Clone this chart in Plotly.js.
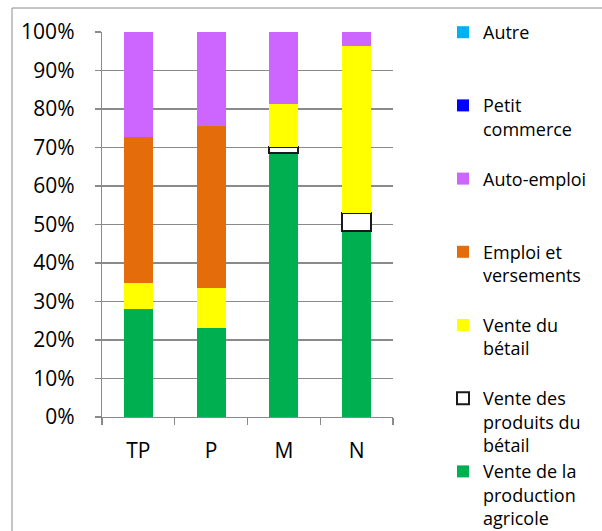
<!DOCTYPE html>
<html><head><meta charset="utf-8">
<script src="https://cdn.plot.ly/plotly-3.0.1.min.js"></script>
<style>
html,body{margin:0;padding:0;background:#fff;}
#chart{width:602px;height:531px;}
</style>
</head><body>
<div id="chart"></div>
<script>
const categories = ['TP', 'P', 'M', 'N'];
const productionAgricole = [28.1, 23.2, 68.5, 48.2];
const produitsBetail = [null, null, 1.6, 4.8];
const venteBetail = [6.6, 10.2, 11.1, 43.3];
const emploiVersements = [38.1, 42.2, null, null];
const autoEmploi = [27.2, 24.4, 18.8, 3.7];
const petitCommerce = [0, 0, 0, 0];
const autre = [0, 0, 0, 0];
const yTicks = [0, 10, 20, 30, 40, 50, 60, 70, 80, 90, 100];
const yTickText = ['0%', '10%', '20%', '30%', '40%', '50%', '60%', '70%', '80%', '90%', '100%'];

function tr(name, y, color, line) {
  return {
    type: 'bar', x: categories, y: y, name: name,
    marker: { color: color, line: line || { width: 0 } },
    hoverinfo: 'none'
  };
}
const data = [
  tr('Vente de la<br>production<br>agricole', productionAgricole, '#00B050'),
  tr('Vente des<br>produits du<br>bétail', produitsBetail, '#FFFFFF', { color: '#1a1a1a', width: 2 }),
  tr('Vente du<br>bétail<br> ', venteBetail, '#FFFF00'),
  tr('Emploi et<br>versements<br> ', emploiVersements, '#E46C0A'),
  tr('Auto-emploi<br> <br> ', autoEmploi, '#CC66FF'),
  tr('Petit<br>commerce<br> ', petitCommerce, '#0000FF'),
  tr('Autre<br> <br> ', autre, '#00B0F0')
];
const grid = '#8a8a8a';
const layout = {
  width: 602, height: 531,
  paper_bgcolor: '#fff', plot_bgcolor: '#fff',
  margin: { l: 102, r: 209, t: 32, b: 114, autoexpand: false },
  barmode: 'stack', bargap: 0.6,
  font: { family: 'Open Sans, sans-serif', color: '#000' },
  xaxis: {
    type: 'category', showline: true, linecolor: grid, linewidth: 1.3,
    ticks: 'outside', tickson: 'boundaries', ticklen: 7, tickcolor: grid, tickwidth: 1.3,
    tickfont: { size: 21, color: '#000' }, ticklabelstandoff: 14,
    showgrid: false, fixedrange: true
  },
  yaxis: {
    range: [0, 100], tickmode: 'array', tickvals: yTicks, ticktext: yTickText,
    showline: true, linecolor: grid, linewidth: 1.3,
    ticks: 'outside', ticklen: 6, tickcolor: grid, tickwidth: 1.3,
    showgrid: true, gridcolor: grid, gridwidth: 1.3, zeroline: false,
    tickfont: { size: 21, color: '#000' }, ticklabelstandoff: 16, fixedrange: true
  },
  legend: {
    xref: 'container', yref: 'container',
    x: 443 / 602, y: 1 - 14 / 531, xanchor: 'left', yanchor: 'top',
    traceorder: 'reversed', valign: 'top', maxheight: 2000,
    font: { size: 18, color: '#000', family: 'Open Sans, sans-serif' },
    bgcolor: 'rgba(0,0,0,0)', borderwidth: 0, itemclick: false, itemdoubleclick: false
  },
  shapes: [{
    type: 'rect', xref: 'paper', yref: 'paper',
    x0: -0.3093, x1: 3, y0: -1, y1: 1.0623,
    line: { color: '#8c8c8c', width: 1 }, fillcolor: 'rgba(0,0,0,0)', layer: 'below'
  }],
  showlegend: true
};
Plotly.newPlot('chart', data, layout, { staticPlot: true, displayModeBar: false });
</script>
</body></html>
